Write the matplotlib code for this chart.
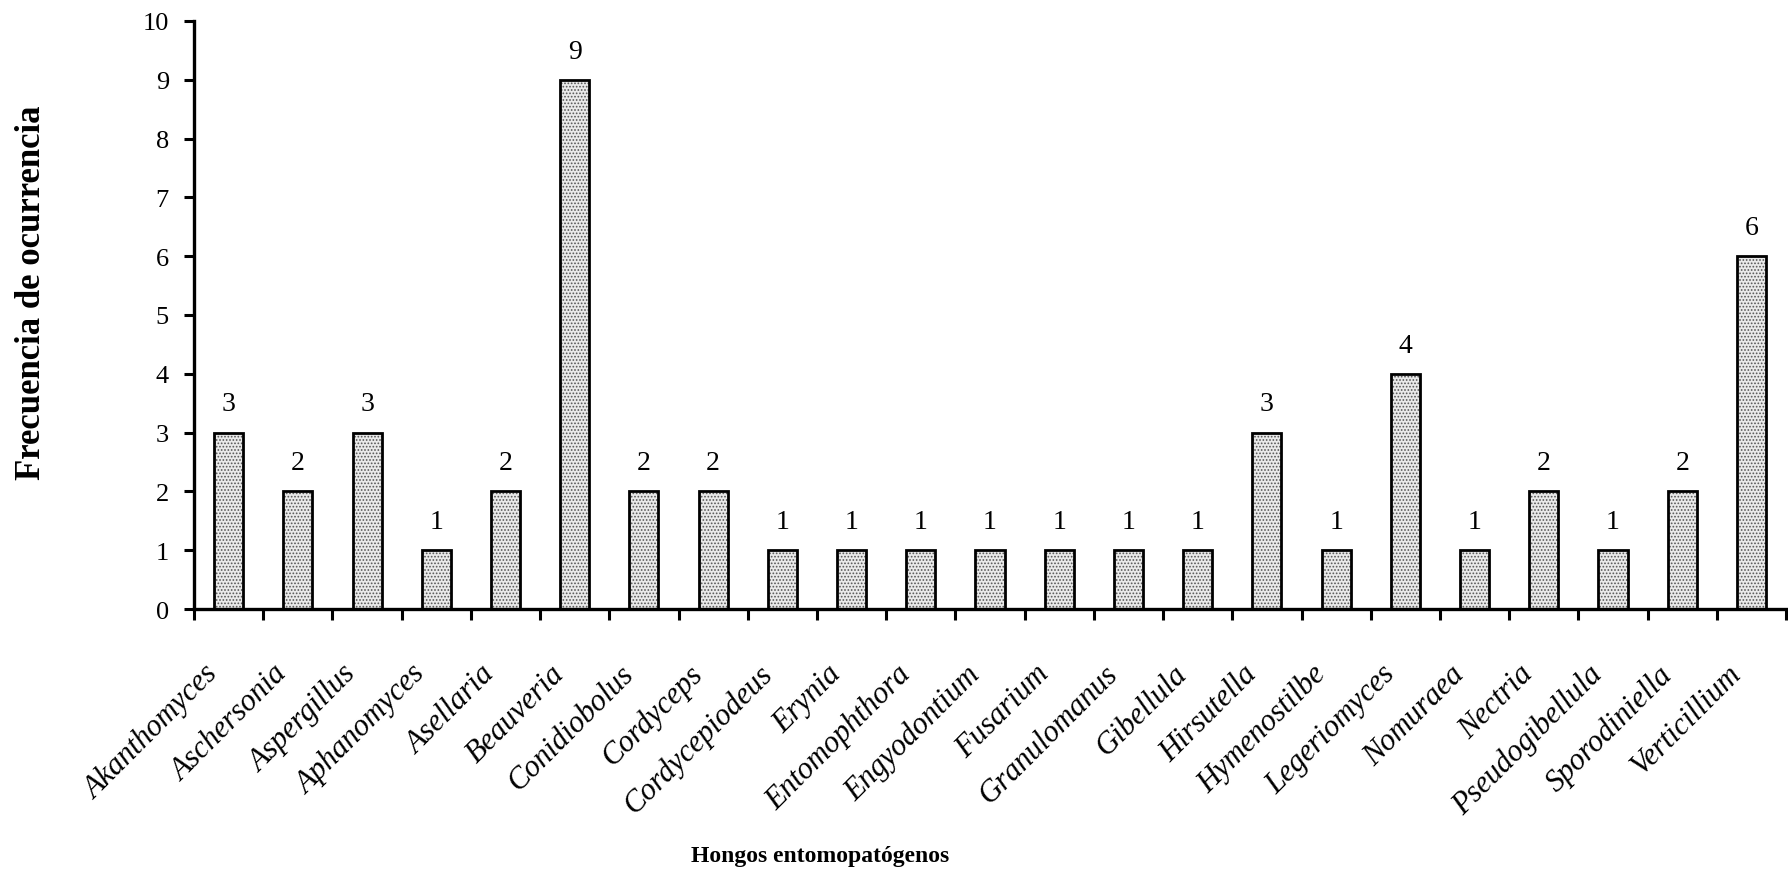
import numpy as np
import matplotlib.pyplot as plt
import matplotlib.transforms as mtransforms

hongos = ['Akanthomyces', 'Aschersonia', 'Aspergillus', 'Aphanomyces', 'Asellaria',
          'Beauveria', 'Conidiobolus', 'Cordyceps', 'Cordycepiodeus', 'Erynia',
          'Entomophthora', 'Engyodontium', 'Fusarium', 'Granulomanus', 'Gibellula',
          'Hirsutella', 'Hymenostilbe', 'Legeriomyces', 'Nomuraea', 'Nectria',
          'Pseudogibellula', 'Sporodiniella', 'Verticillium']
frecuencia = [3, 2, 3, 1, 2, 9, 2, 2, 1, 1, 1, 1, 1, 1, 1, 3, 1, 4, 1, 2, 1, 2, 6]
y_ticks = list(range(0, 11))

plt.rcParams['font.family'] = ['Liberation Serif', 'DejaVu Serif']
plt.rcParams['hatch.linewidth'] = 0.8

fig = plt.figure(figsize=(17.88, 8.78), dpi=100)
ax = fig.add_axes([0.1085, 0.3052, 0.8904, 0.6698])

x = np.arange(len(hongos))
w = 0.42

# stippled fill, then the black outline on top
ax.bar(x, frecuencia, w, color='#e9e9e9', edgecolor='#555555', hatch='.....', linewidth=0)
ax.bar(x, frecuencia, w, fill=False, edgecolor='black', linewidth=2.0)

for xi, v in zip(x, frecuencia):
    ax.annotate(str(v), (xi, v), xytext=(0, 16), textcoords='offset points',
                ha='center', va='baseline', fontsize=20)

ax.set_xlim(-0.5, len(hongos) - 0.5)
ax.set_ylim(0, 10)
ax.set_yticks(y_ticks)
ax.tick_params(axis='y', direction='out', length=7, width=2.2, labelsize=19, pad=11)

# tick marks between categories, labels under bars
ax.set_xticks(np.arange(len(hongos) + 1) - 0.5)
ax.set_xticklabels([])
ax.tick_params(axis='x', which='major', direction='out', length=8, width=2.2)
ax.set_xticks(x, minor=True)
ax.set_xticklabels(hongos, minor=True, rotation=45, ha='right', va='top',
                   rotation_mode='anchor', fontstyle='italic', fontsize=22)
ax.tick_params(axis='x', which='minor', length=0, pad=36)
shift = mtransforms.ScaledTranslation(-0.25, 0, fig.dpi_scale_trans)
for lab in ax.get_xticklabels(minor=True):
    lab.set_transform(lab.get_transform() + shift)

for s in ['top', 'right']:
    ax.spines[s].set_visible(False)
for s in ['left', 'bottom']:
    ax.spines[s].set_linewidth(2.4)

ax.set_ylabel('Frecuencia de ocurrencia', fontsize=25, fontweight='bold')
ax.yaxis.set_label_coords(-0.092, 0.54)
ax.set_xlabel('Hongos entomopatógenos', fontsize=17, fontweight='bold', va='top')
ax.xaxis.set_label_coords(0.393, -0.402)

fig.savefig('out.png', dpi=100)
